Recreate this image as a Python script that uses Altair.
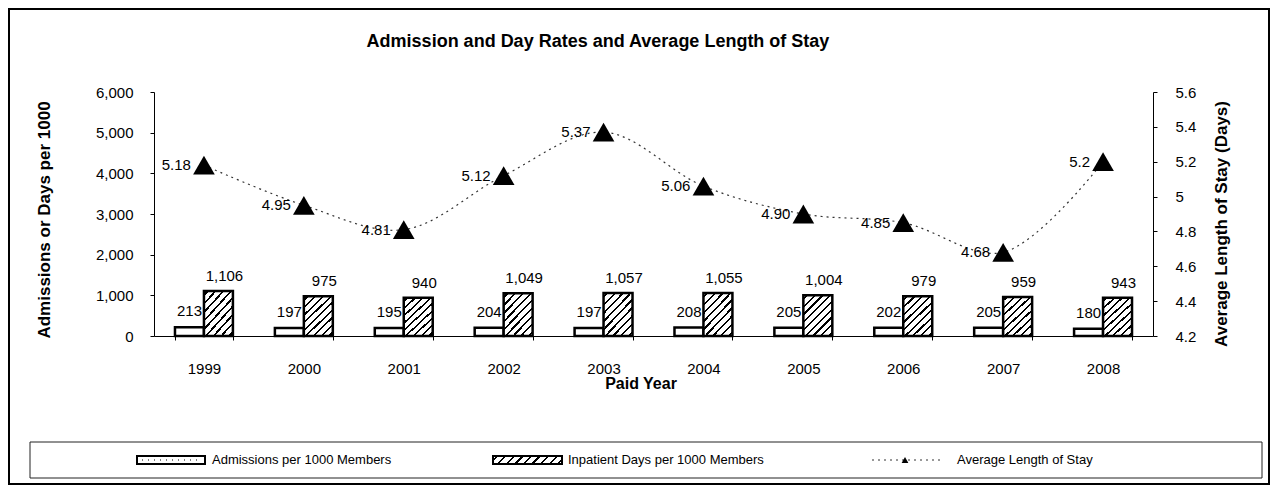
import math
import altair as alt
import pandas as pd

# ---------------- data ----------------
years = ["1999", "2000", "2001", "2002", "2003", "2004", "2005", "2006", "2007", "2008"]
admissions = [213, 197, 195, 204, 197, 208, 205, 202, 205, 180]
inpatient_days = [1106, 975, 940, 1049, 1057, 1055, 1004, 979, 959, 943]
alos = [5.18, 4.95, 4.81, 5.12, 5.37, 5.06, 4.90, 4.85, 4.68, 5.2]
alos_labels = ["5.18", "4.95", "4.81", "5.12", "5.37", "5.06", "4.90", "4.85", "4.68", "5.2"]
series_names = ["Admissions per 1000 Members", "Inpatient Days per 1000 Members", "Average Length of Stay"]
left_ticks = [0, 1000, 2000, 3000, 4000, 5000, 6000]
right_ticks = [4.2, 4.4, 4.6, 4.8, 5.0, 5.2, 5.4, 5.6]
chart_title = "Admission and Day Rates and Average Length of Stay"
left_title = "Admissions or Days per 1000"
right_title = "Average Length of Stay (Days)"
x_title = "Paid Year"

FONT = "Liberation Sans"
W, H = 999, 244


def hatch(w, h, spacing=5.5, thick=1.6):
    """Linear gradient that imitates a 45-degree '////' hatch on a w x h box."""
    k = (w + h) / (w * w + h * h)
    total = (w + h) / math.sqrt(2)
    n = max(1, round(total / spacing))
    d = (thick / 2) / total
    stops = [alt.GradientStop(offset=0, color="white")]
    for i in range(n):
        c = (i + 0.5) / n
        stops += [
            alt.GradientStop(offset=c - d, color="white"),
            alt.GradientStop(offset=c - d, color="black"),
            alt.GradientStop(offset=c + d, color="black"),
            alt.GradientStop(offset=c + d, color="white"),
        ]
    stops.append(alt.GradientStop(offset=1, color="white"))
    return alt.LinearGradient(gradient="linear", x1=0, y1=0, x2=w * k, y2=h * k, stops=stops)


rows = []
for yr, a, d in zip(years, admissions, inpatient_days):
    rows.append({"year": yr, "series": "adm", "value": a})
    rows.append({"year": yr, "series": "inp", "value": d})
bars_df = pd.DataFrame(rows)
alos_df = pd.DataFrame({"year": years, "alos": alos, "label": alos_labels})
one = pd.DataFrame({"k": [0]})

x_enc = alt.X(
    "year:N",
    sort=years,
    scale=alt.Scale(paddingInner=0.42, paddingOuter=0.21),
    axis=alt.Axis(
        title=None, labelAngle=0, labelFont=FONT, labelFontSize=15, labelColor="black",
        labelPadding=21, tickBand="extent", tickSize=4, tickColor="black",
        domainColor="black", domainWidth=1,
    ),
)
xo_enc = alt.XOffset("series:N", scale=alt.Scale(domain=["adm", "inp"], paddingInner=0, paddingOuter=0))
y_left = alt.Y(
    "value:Q",
    scale=alt.Scale(domain=[0, 6000], nice=False),
    axis=alt.Axis(
        title=None, values=left_ticks, labelExpr="format(datum.value, ',')",
        labelFont=FONT, labelFontSize=15, labelColor="black", labelPadding=17,
        tickSize=4, tickColor="black", domainColor="black", grid=False,
    ),
)
y_right = alt.Y(
    "alos:Q",
    scale=alt.Scale(domain=[4.2, 5.6], nice=False, zero=False),
    axis=alt.Axis(
        title=None, orient="right", values=right_ticks,
        labelExpr="format(datum.value, '~g')", labelFont=FONT,
        labelFontSize=15, labelColor="black", labelPadding=18, tickSize=4,
        tickColor="black", domainColor="black", grid=False,
    ),
)

base = alt.Chart(bars_df)
bars_adm = base.transform_filter(alt.datum.series == "adm").mark_bar(
    fill="white", stroke="black", strokeWidth=2.5
).encode(x=x_enc, xOffset=xo_enc, y=y_left)
bars_inp = base.transform_filter(alt.datum.series == "inp").mark_bar(
    fill=hatch(29, 41), stroke="black", strokeWidth=2.5
).encode(x=x_enc, xOffset=xo_enc, y=y_left)
lab_adm = base.transform_filter(alt.datum.series == "adm").mark_text(
    font=FONT, fontSize=15, color="black", dy=-16, baseline="middle"
).encode(x=x_enc, xOffset=xo_enc, y=y_left, text=alt.Text("value:Q", format=","))
lab_inp = base.transform_filter(alt.datum.series == "inp").mark_text(
    font=FONT, fontSize=15, color="black", dy=-15, dx=6, baseline="middle"
).encode(x=x_enc, xOffset=xo_enc, y=y_left, text=alt.Text("value:Q", format=","))
left = alt.layer(bars_adm, bars_inp, lab_adm, lab_inp)

lbase = alt.Chart(alos_df)
line = lbase.mark_line(
    color="#333333", strokeWidth=1.2, strokeDash=[2, 4], interpolate="catmull-rom"
).encode(x=x_enc, y=y_right)
pts = lbase.mark_point(
    shape="triangle-up", filled=True, size=470, color="black", opacity=1
).encode(x=x_enc, y=y_right)
lab_alos = lbase.mark_text(
    font=FONT, fontSize=15, color="black", align="right", baseline="middle", dx=-13
).encode(x=x_enc, y=y_right, text="label:N")
right = alt.layer(line, pts, lab_alos)

deco = alt.Chart(one)
frame = deco.mark_rect(fillOpacity=0, stroke="black", strokeWidth=2).encode(
    x=alt.value(-145), x2=alt.value(1115), y=alt.value(-83), y2=alt.value(392)
)
title = deco.mark_text(font=FONT, fontSize=18, fontWeight="bold", color="black", baseline="middle").encode(
    x=alt.value(444), y=alt.value(-50), text=alt.value(chart_title)
)
ltitle = deco.mark_text(font=FONT, fontSize=17, fontWeight="bold", color="black", angle=270, baseline="middle").encode(
    x=alt.value(-109), y=alt.value(128), text=alt.value(left_title)
)
rtitle = deco.mark_text(font=FONT, fontSize=17, fontWeight="bold", color="black", angle=270, baseline="middle").encode(
    x=alt.value(1068), y=alt.value(132), text=alt.value(right_title)
)
xtitle = deco.mark_text(font=FONT, fontSize=16, fontWeight="bold", color="black", baseline="middle").encode(
    x=alt.value(487), y=alt.value(292), text=alt.value(x_title)
)
leg_box = deco.mark_rect(fillOpacity=0, stroke="#222222", strokeWidth=1).encode(
    x=alt.value(-124), x2=alt.value(1108), y=alt.value(350), y2=alt.value(386)
)
sw1 = deco.mark_rect(fill="white", stroke="black", strokeWidth=2).encode(
    x=alt.value(-17), x2=alt.value(51), y=alt.value(364), y2=alt.value(372)
)
sw1_dots = deco.mark_rule(color="black", strokeWidth=1, strokeDash=[1, 5]).encode(
    x=alt.value(-12), x2=alt.value(47), y=alt.value(368)
)
sw2 = deco.mark_rect(fill=hatch(69, 8, spacing=6), stroke="black", strokeWidth=2).encode(
    x=alt.value(339), x2=alt.value(408), y=alt.value(364), y2=alt.value(372)
)
sw3_line = deco.mark_rule(color="#333333", strokeWidth=1, strokeDash=[2, 4]).encode(
    x=alt.value(718), x2=alt.value(789), y=alt.value(368)
)
sw3_pt = deco.mark_point(shape="triangle-up", filled=True, size=45, color="black", opacity=1).encode(
    x=alt.value(751), y=alt.value(368)
)
leg_texts = [
    deco.mark_text(font=FONT, fontSize=13, color="black", align="left", baseline="middle").encode(
        x=alt.value(px), y=alt.value(368), text=alt.value(name)
    )
    for px, name in zip([58, 414, 803], series_names)
]
decor = alt.layer(frame, title, ltitle, rtitle, xtitle, leg_box, sw1, sw1_dots, sw2, sw3_line, sw3_pt, *leg_texts)

chart = (
    alt.layer(left, right, decor)
    .resolve_scale(y="independent")
    .properties(
        width=W,
        height=H,
        autosize=alt.AutoSizeParams(type="none"),
        padding={"left": 146, "top": 84, "right": 117, "bottom": 149},
        background="white",
    )
    .configure_view(stroke="transparent")
)

chart.save("out.html", embed_options={"renderer": "svg", "actions": False})
